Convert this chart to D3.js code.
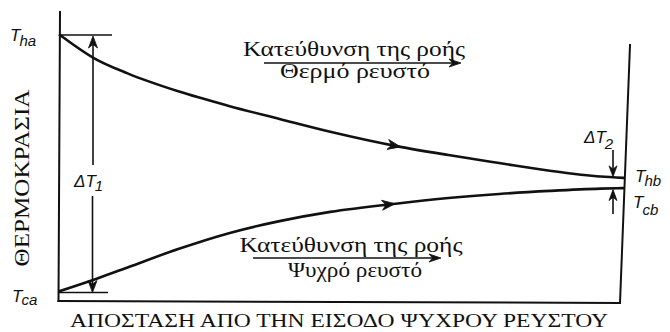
<!DOCTYPE html>
<html><head><meta charset="utf-8">
<script src="https://cdn.jsdelivr.net/npm/d3@7"></script>
<style>body{margin:0;background:#fff}svg{display:block}</style>
</head><body><svg id="c" width="670" height="332"></svg>
<script>
// Distance from the cold-fluid inlet (% of exchanger length)
const distance  = [0, 6, 12, 21, 30, 39, 48, 60, 69, 78, 87, 96, 100];
// Hot-fluid temperature (relative units, Tca = 0, Tha = 100)
const hotFluid  = [100, 91, 85, 78, 72.3, 67.2, 62.2, 56.5, 53.1, 50.0, 47.0, 44.7, 44.2];
// Cold-fluid temperature
const coldFluid = [0, 4.4, 9.2, 16.4, 22.6, 27.3, 30.9, 34.2, 36.3, 37.9, 39.1, 40.0, 40.2];

const flowTitle  = "Κατεύθυνση της ροής";
const hotName    = "Θερμό ρευστό";
const coldName   = "Ψυχρό ρευστό";
const xTitle     = "ΑΠΟΣΤΑΣΗ ΑΠΟ ΤΗΝ ΕΙΣΟΔΟ ΨΥΧΡΟΥ ΡΕΥΣΤΟΥ";
const yTitle     = "ΘΕΡΜΟΚΡΑΣΙΑ";

const svg = d3.select("#c");
svg.append("rect").attr("width",670).attr("height",332).attr("fill","#fff");

const x = d3.scaleLinear().domain([0,100]).range([60,623]);
const y = d3.scaleLinear().domain([0,100]).range([291,35]);

const ink = "#111";
const serif = "'Liberation Serif','DejaVu Serif',serif";
const sans = "'Liberation Sans',Arial,sans-serif";

// frame: temperature axis, distance axis and the exchanger outlet wall
const g = svg.append("g").attr("stroke",ink).attr("fill","none").attr("stroke-linecap","square");
g.append("line").attr("x1",60).attr("y1",12).attr("x2",58.5).attr("y2",301).attr("stroke-width",2);
g.append("line").attr("x1",58.5).attr("y1",301).attr("x2",620).attr("y2",303).attr("stroke-width",2);
g.append("line").attr("x1",630).attr("y1",45).attr("x2",620).attr("y2",303).attr("stroke-width",2);

// temperature profiles
const line = d3.line().x((d,i)=>x(distance[i])).y(d=>y(d)).curve(d3.curveMonotoneX);
const hotPath = g.append("path").datum(hotFluid).attr("d",line).attr("stroke-width",2.6);
const coldPath = g.append("path").datum(coldFluid).attr("d",line).attr("stroke-width",2.6);

function pointAtX(path, px){
  const node = path.node(), L = node.getTotalLength();
  let lo=0, hi=L;
  for(let k=0;k<40;k++){ const m=(lo+hi)/2; if(node.getPointAtLength(m).x<px) lo=m; else hi=m; }
  const p = node.getPointAtLength(lo), q = node.getPointAtLength(Math.min(L,lo+2));
  return {x:p.x, y:p.y, a:Math.atan2(q.y-p.y,q.x-p.x)*180/Math.PI};
}
function arrowHead(cx, cy, angle, len, half){
  svg.append("path")
    .attr("d",`M0,0 L${-len},${-half} L${-len*0.7},0 L${-len},${half} Z`)
    .attr("transform",`translate(${cx},${cy}) rotate(${angle})`)
    .attr("fill",ink).attr("stroke",ink).attr("stroke-width",0.8).attr("stroke-linejoin","miter");
}
const hp = pointAtX(hotPath, x(60.5));
arrowHead(hp.x, hp.y, hp.a, 13, 5);
const cp = pointAtX(coldPath, x(59.5));
arrowHead(cp.x, cp.y, cp.a, 13, 5);

// inlet temperature marks and the ΔT1 span
const thin = svg.append("g").attr("stroke",ink).attr("fill","none").attr("stroke-width",1.6);
thin.append("line").attr("x1",60).attr("x2",112).attr("y1",y(100)).attr("y2",y(100));
thin.append("line").attr("x1",59).attr("x2",108).attr("y1",y(0)+1.5).attr("y2",y(0)+1.5);
const xd1 = 93;
thin.append("line").attr("x1",xd1).attr("x2",xd1).attr("y1",y(100)+8).attr("y2",165);
thin.append("line").attr("x1",xd1-0.5).attr("x2",xd1-0.5).attr("y1",196).attr("y2",y(0)-7);
arrowHead(xd1, y(100)+1, -90, 12, 4.5);
arrowHead(xd1-0.5, y(0)+1.5, 90, 12, 4.5);

// ΔT2 pointers at the outlet
const xd2 = 613;
const hEnd = y(hotFluid[hotFluid.length-1]), cEnd = y(coldFluid[coldFluid.length-1]);
thin.append("line").attr("x1",xd2).attr("x2",xd2).attr("y1",150).attr("y2",hEnd-6);
arrowHead(xd2, hEnd-1, 90, 11, 4);
thin.append("line").attr("x1",xd2).attr("x2",xd2).attr("y1",214).attr("y2",cEnd+6);
arrowHead(xd2, cEnd+1.5, -90, 11, 4);

// flow direction arrows
function flowArrow(x1, x2, yy){
  thin.append("line").attr("x1",x1).attr("x2",x2-6).attr("y1",yy).attr("y2",yy);
  arrowHead(x2, yy, 0, 12, 4);
}
flowArrow(264, 461, 63);
flowArrow(253, 441, 258);

function text(str, tx, ty, size, width, anchor){
  const t = svg.append("text").attr("x",tx).attr("y",ty).attr("font-family",serif)
    .attr("font-size",size).attr("fill",ink).attr("text-anchor",anchor||"middle").text(str);
  if(width){ t.attr("textLength",width).attr("lengthAdjust","spacingAndGlyphs"); }
  return t;
}
text(flowTitle, 354, 56, 21, 222);
text(hotName, 355, 78, 21, 150);
text(flowTitle, 351, 252, 21, 223);
text(coldName, 355, 277, 21, 134);
text(xTitle, 339, 327, 19, 538);
text(yTitle, 0, 0, 20, 177).attr("transform","translate(29,178) rotate(-90)");

// end-point and difference labels
function tLabel(main, sub, tx, ty, dy){
  const t = svg.append("text").attr("x",tx).attr("y",ty).attr("font-family",sans)
    .attr("font-style","italic").attr("fill",ink);
  t.append("tspan").attr("font-size",17).text(main);
  t.append("tspan").attr("font-size",15).attr("dy",dy).attr("dx",-1).text(sub);
}
tLabel("T", "ha", 10, 41, 5);
tLabel("T", "ca", 12, 302, 3);
tLabel("T", "hb", 635, 182, 4);
tLabel("T", "cb", 633, 208, 7);
tLabel("ΔT", "1", 74, 187, 4);
tLabel("ΔT", "2", 584, 143, 6);
</script></body></html>
